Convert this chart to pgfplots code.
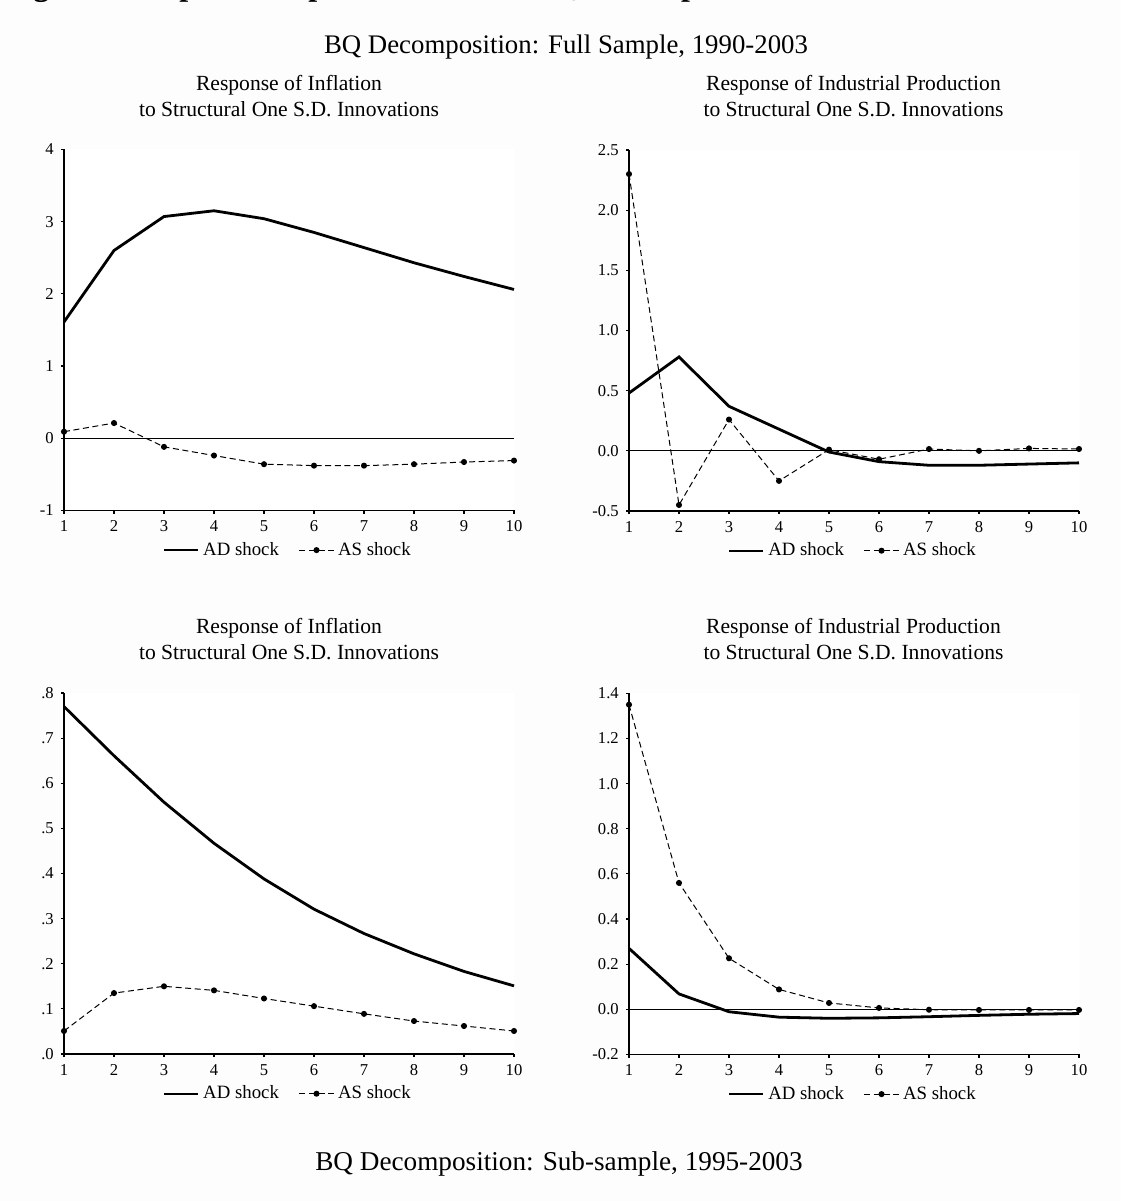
\documentclass[border=0pt]{standalone}
\usepackage{pgfplots}
\pgfplotsset{compat=1.18}
\usepackage{fontspec}
\setmainfont{Liberation Serif}

\pgfplotsset{
  irf/.style={
    scale only axis, width=225pt, height=180.5pt,
    axis x line*=bottom, axis y line*=left,
    xmin=1, xmax=10, xtick={1,...,10},
    tick align=outside, major tick length=1.6pt,
    tick style={black, line width=0.6pt},
    axis line style={black, line width=0.7pt},
    ticklabel style={font=\fontsize{8.3}{9}\selectfont},
    /pgf/number format/assume math mode=true,
    axis background/.style={fill=white},
    legend style={draw=none, fill=none, font=\fontsize{9.4}{11}\selectfont,
      legend columns=2, at={(0.5,-0.11)}, anchor=center,
      /tikz/every even column/.append style={column sep=8pt}},
    legend cell align=left,
    clip=false,
  },
  ad/.style={black, line width=1.4pt, no markers, legend image post style={line width=0.9pt}},
  as/.style={black, line width=0.5pt, dash pattern=on 3pt off 1.8pt, mark=*, mark size=1.25pt, mark options={solid}},
  zl/.style={black, line width=0.4pt, no markers, forget plot},
}

\begin{document}
\begin{tikzpicture}[x=1pt,y=1pt]
\fill[fill={rgb,255:red,253;green,253;blue,253}] (0pt,0pt) rectangle (560.5pt,600.5pt);
\useasboundingbox (0pt,0pt) rectangle (560.5pt,600.5pt);
\begin{scope}
  \clip (0pt,0pt) rectangle (560.5pt,600.5pt);
  \node[anchor=base west, inner sep=0pt, font=\bfseries\fontsize{16}{19}\selectfont] at (2.3pt,602.5pt) {Figure 3: Impulse Responses from the BQ Decomposition};
\end{scope}

\node[anchor=base, inner sep=0pt, font=\fontsize{13.4}{16}\selectfont] at (283pt,573.8pt) {BQ Decomposition: Full Sample, 1990-2003};
\node[anchor=base, inner sep=0pt, font=\fontsize{13.6}{16}\selectfont] at (279.5pt,15.5pt) {BQ Decomposition: Sub-sample, 1995-2003};

\node[anchor=base, inner sep=0pt, font=\fontsize{10.8}{13}\selectfont] at (144.5pt,555pt) {Response of Inflation};
\node[anchor=base, inner sep=0pt, font=\fontsize{10.8}{13}\selectfont] at (144.5pt,542pt) {to Structural One S.D. Innovations};
\node[anchor=base, inner sep=0pt, font=\fontsize{10.8}{13}\selectfont] at (426.75pt,555pt) {Response of Industrial Production};
\node[anchor=base, inner sep=0pt, font=\fontsize{10.8}{13}\selectfont] at (426.75pt,542pt) {to Structural One S.D. Innovations};
\node[anchor=base, inner sep=0pt, font=\fontsize{10.8}{13}\selectfont] at (144.5pt,283.5pt) {Response of Inflation};
\node[anchor=base, inner sep=0pt, font=\fontsize{10.8}{13}\selectfont] at (144.5pt,270.5pt) {to Structural One S.D. Innovations};
\node[anchor=base, inner sep=0pt, font=\fontsize{10.8}{13}\selectfont] at (426.75pt,283.5pt) {Response of Industrial Production};
\node[anchor=base, inner sep=0pt, font=\fontsize{10.8}{13}\selectfont] at (426.75pt,270.5pt) {to Structural One S.D. Innovations};

% Top-left: Inflation, full sample
\begin{axis}[irf, at={(32pt,345.3pt)}, anchor=south west,
  ymin=-1, ymax=4, ytick={-1,0,1,2,3,4}, yticklabels={-1,0,1,2,3,4}]
\addplot[zl] coordinates {(1,0) (10,0)};
\addplot[ad] coordinates {(1,1.61) (2,2.60) (3,3.07) (4,3.15) (5,3.04) (6,2.85) (7,2.64) (8,2.43) (9,2.24) (10,2.06)};
\addlegendentry{AD shock}
\addplot[as] coordinates {(1,0.09) (2,0.21) (3,-0.12) (4,-0.24) (5,-0.36) (6,-0.38) (7,-0.38) (8,-0.36) (9,-0.33) (10,-0.31)};
\addlegendentry{AS shock}
\end{axis}

% Top-right: Industrial production, full sample
\begin{axis}[irf, at={(314.5pt,345pt)}, anchor=south west,
  ymin=-0.5, ymax=2.5, ytick={-0.5,0,0.5,1,1.5,2,2.5},
  yticklabels={-0.5,0.0,0.5,1.0,1.5,2.0,2.5}]
\addplot[zl] coordinates {(1,0) (10,0)};
\addplot[ad] coordinates {(1,0.48) (2,0.78) (3,0.37) (4,0.18) (5,-0.01) (6,-0.09) (7,-0.12) (8,-0.12) (9,-0.11) (10,-0.10)};
\addlegendentry{AD shock}
\addplot[as] coordinates {(1,2.30) (2,-0.45) (3,0.26) (4,-0.25) (5,0.01) (6,-0.07) (7,0.015) (8,0.0) (9,0.02) (10,0.015)};
\addlegendentry{AS shock}
\end{axis}

% Bottom-left: Inflation, sub-sample
\begin{axis}[irf, at={(32pt,73.5pt)}, anchor=south west,
  ymin=0, ymax=0.8, ytick={0,0.1,0.2,0.3,0.4,0.5,0.6,0.7,0.8},
  yticklabels={.0,.1,.2,.3,.4,.5,.6,.7,.8}]
\addplot[ad] coordinates {(1,0.770) (2,0.661) (3,0.558) (4,0.467) (5,0.388) (6,0.321) (7,0.267) (8,0.222) (9,0.183) (10,0.151)};
\addlegendentry{AD shock}
\addplot[as] coordinates {(1,0.051) (2,0.135) (3,0.150) (4,0.141) (5,0.123) (6,0.106) (7,0.089) (8,0.073) (9,0.062) (10,0.051)};
\addlegendentry{AS shock}
\end{axis}

% Bottom-right: Industrial production, sub-sample
\begin{axis}[irf, at={(314.5pt,73.3pt)}, anchor=south west,
  ymin=-0.2, ymax=1.4, ytick={-0.2,0,0.2,0.4,0.6,0.8,1.0,1.2,1.4},
  yticklabels={-0.2,0.0,0.2,0.4,0.6,0.8,1.0,1.2,1.4}]
\addplot[zl] coordinates {(1,0) (10,0)};
\addplot[ad] coordinates {(1,0.27) (2,0.068) (3,-0.011) (4,-0.035) (5,-0.040) (6,-0.038) (7,-0.033) (8,-0.027) (9,-0.022) (10,-0.019)};
\addlegendentry{AD shock}
\addplot[as] coordinates {(1,1.35) (2,0.56) (3,0.226) (4,0.088) (5,0.028) (6,0.006) (7,-0.002) (8,-0.003) (9,-0.003) (10,-0.003)};
\addlegendentry{AS shock}
\end{axis}
\end{tikzpicture}
\end{document}
